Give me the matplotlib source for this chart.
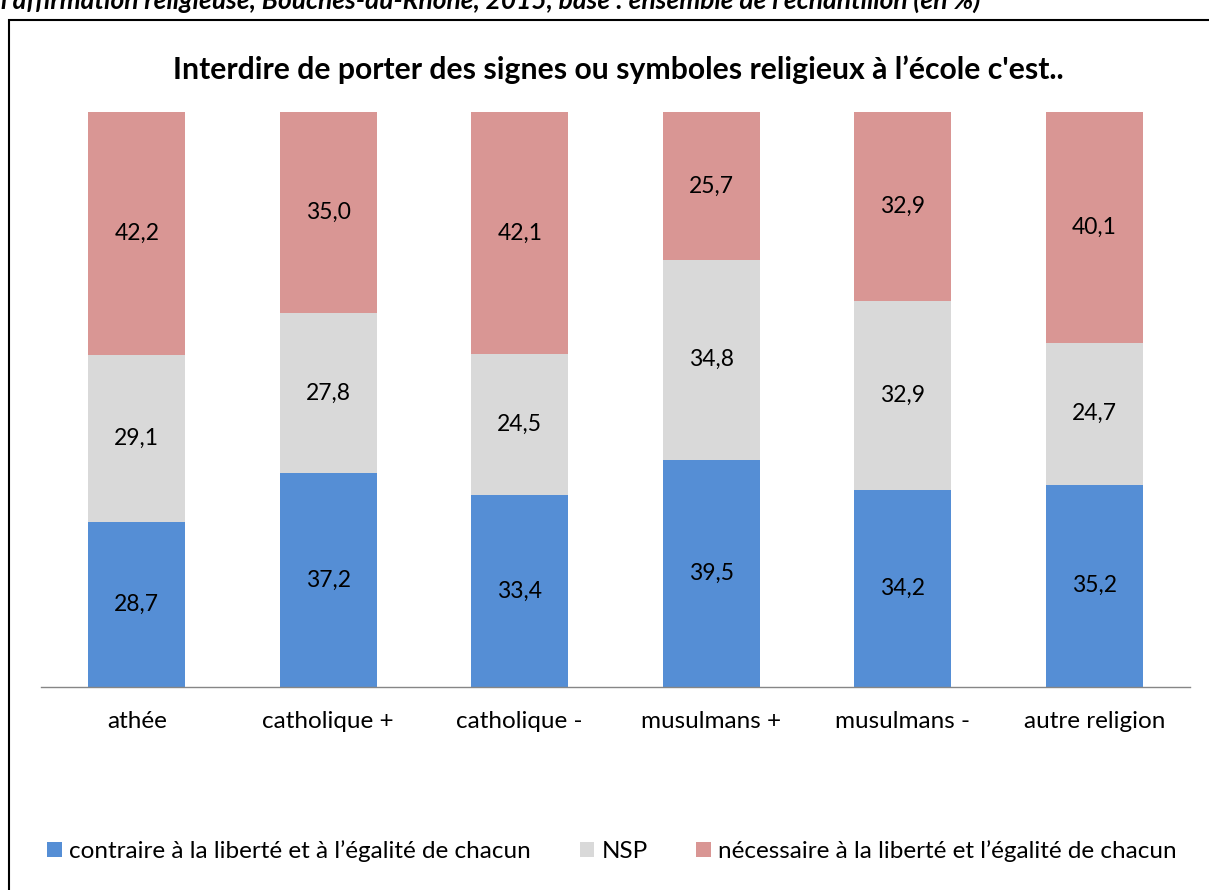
import numpy as np
import matplotlib
matplotlib.use("Agg")
import matplotlib.pyplot as plt
from matplotlib.patches import Rectangle

categories = ["athée", "catholique +", "catholique -", "musulmans +", "musulmans -", "autre religion"]
contraire = [28.7, 37.2, 33.4, 39.5, 34.2, 35.2]
nsp = [29.1, 27.8, 24.5, 34.8, 32.9, 24.7]
necessaire = [42.2, 35.0, 42.1, 25.7, 32.9, 40.1]
series_names = ["contraire à la liberté et à l’égalité de chacun", "NSP",
                "nécessaire à la liberté et l’égalité de chacun"]
title = "Interdire de porter des signes ou symboles religieux à l’école c'est.."
header = "l'affirmation religieuse, Bouches-du-Rhône, 2015, base : ensemble de l'échantillon (en %)"

COLORS = ["#558ED5", "#D9D9D9", "#D99694"]
FONT = "Lato"

fig = plt.figure(figsize=(12.09, 8.9), dpi=100)
ax = fig.add_axes([41 / 1209, 1 - 687 / 890, 1149 / 1209, 575 / 890])

x = np.arange(len(categories))
bottom = np.zeros(len(categories))
for vals, col, name in zip([contraire, nsp, necessaire], COLORS, series_names):
    vals = np.array(vals)
    ax.bar(x, vals, bottom=bottom, width=0.505, color=col, label=name)
    for xi, b, v in zip(x, bottom, vals):
        ax.text(xi, b + v / 2, f"{v:.1f}".replace(".", ","), ha="center", va="center",
                fontsize=16.5, family=FONT)
    bottom += vals

ax.set_xlim(-0.5, len(categories) - 0.5)
ax.set_ylim(0, 100)
ax.set_yticks([])
ax.set_xticks(x)
ax.set_xticklabels(categories, fontsize=17.5, family=FONT)
ax.tick_params(axis="x", length=0, pad=17)
for s in ["top", "right", "left"]:
    ax.spines[s].set_visible(False)
ax.spines["bottom"].set_color("#868686")
ax.spines["bottom"].set_linewidth(1)

fig.text(618 / 1209, 1 - 70 / 890, title, ha="center", va="center",
         fontsize=21.7, fontweight="bold", family=FONT)

# cropped header line from the source document
fig.text(0.001, 1 - 9 / 890, header, ha="left", va="baseline",
         fontsize=19, fontweight="bold", style="italic", family=FONT)

# outer chart border (left and top edges visible)
fig.add_artist(Rectangle((9 / 1209, -0.05), 1.2, 1.05 - 20 / 890, transform=fig.transFigure,
                         fill=False, edgecolor="black", linewidth=1.5))

handles, labels = ax.get_legend_handles_labels()
fig.legend(handles, labels, loc="center", bbox_to_anchor=(612 / 1209, 1 - 851 / 890),
           ncol=3, frameon=False, prop={"family": FONT, "size": 17.5},
           handlelength=0.6, handleheight=0.6, handletextpad=0.3, columnspacing=2.0)

fig.savefig("out.png", dpi=100)
